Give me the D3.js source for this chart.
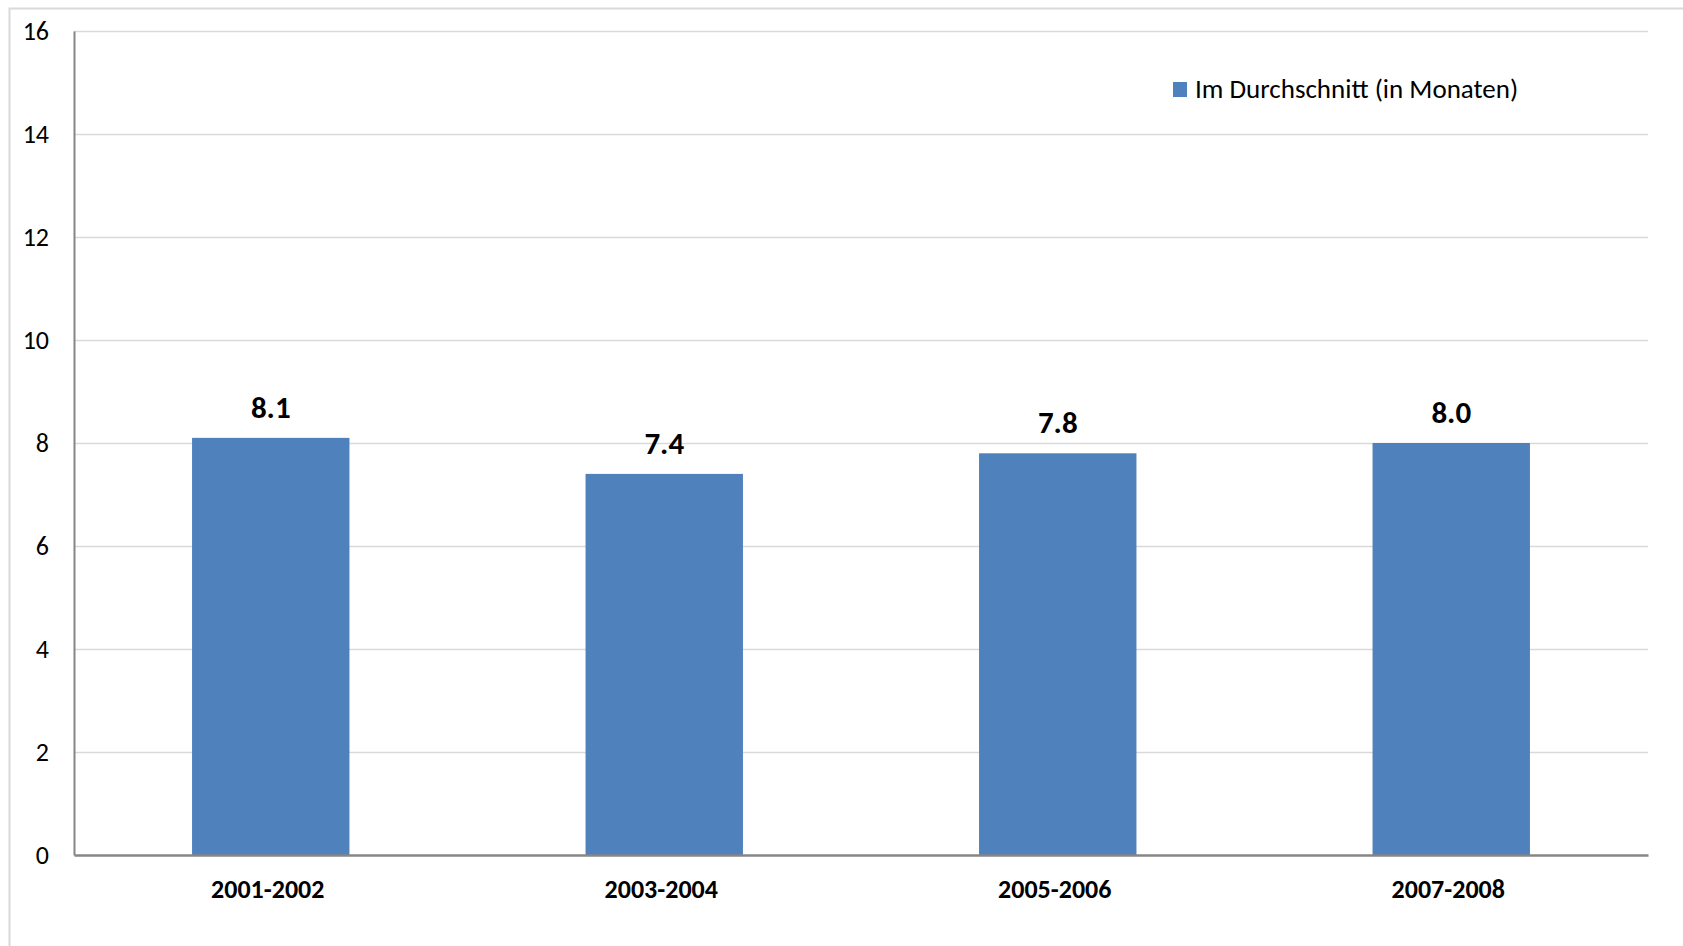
<!DOCTYPE html>
<html>
<head>
<meta charset="utf-8">
<script src="https://cdn.jsdelivr.net/npm/d3@7"></script>
<style>
  html, body { margin: 0; padding: 0; background: #fff; }
  svg { display: block; font-family: Carlito, Calibri, Lato, "Open Sans", sans-serif; }
</style>
</head>
<body>
<svg id="chart" width="1683" height="946"></svg>
<script>
// Average duration per period (in months)
const categories = ["2001-2002", "2003-2004", "2005-2006", "2007-2008"];
const values = [8.1, 7.4, 7.8, 8.0];
const yTicks = [0, 2, 4, 6, 8, 10, 12, 14, 16];
const seriesName = "Im Durchschnitt (in Monaten)";

const svg = d3.select("#chart");
const margin = { left: 74, top: 31, right: 35, bottom: 91 };
const width = 1683, height = 946;
const plotW = width - margin.left - margin.right;
const plotH = height - margin.top - margin.bottom;
const fontStack = "Carlito, Calibri, Lato, sans-serif";

// Chart frame
svg.append("rect")
  .attr("x", 9.5).attr("y", 8.5)
  .attr("width", width + 20).attr("height", height + 20)
  .attr("fill", "none").attr("stroke", "#d9d9d9").attr("stroke-width", 2);

const g = svg.append("g").attr("transform", `translate(${margin.left},${margin.top})`);

const x = d3.scaleBand().domain(categories).range([0, plotW])
  .paddingInner(0.6).paddingOuter(0.3);
const y = d3.scaleLinear().domain([0, 16]).range([plotH, 0]);

// Horizontal gridlines
g.append("g")
  .selectAll("line")
  .data(yTicks.filter(d => d > 0))
  .join("line")
  .attr("x1", 0).attr("x2", plotW)
  .attr("y1", d => Math.round(y(d)) + 0.5).attr("y2", d => Math.round(y(d)) + 0.5)
  .attr("stroke", "#d9d9d9").attr("stroke-width", 1.5);

// Y axis
const yAxis = g.append("g")
  .call(d3.axisLeft(y).tickValues(yTicks).tickSize(0).tickPadding(25).tickFormat(d3.format("d")));
yAxis.select(".domain").attr("stroke", "#868686").attr("stroke-width", 2);
yAxis.selectAll("text").attr("font-size", 26).attr("fill", "#000")
  .style("font-family", fontStack);

// Bars
g.append("g")
  .selectAll("rect")
  .data(values)
  .join("rect")
  .attr("x", (d, i) => x(categories[i]))
  .attr("y", d => y(d))
  .attr("width", x.bandwidth())
  .attr("height", d => plotH - y(d))
  .attr("fill", "#4f81bd");

// Value labels
g.append("g")
  .selectAll("text")
  .data(values)
  .join("text")
  .attr("x", (d, i) => x(categories[i]) + x.bandwidth() / 2)
  .attr("y", d => y(d) - 20)
  .attr("text-anchor", "middle")
  .attr("font-size", 31).attr("font-weight", "bold").attr("fill", "#000")
  .text(d => d3.format(".1f")(d));

// X axis
const xAxis = g.append("g")
  .attr("transform", `translate(0,${plotH})`)
  .call(d3.axisBottom(x).tickSize(0).tickPadding(25));
xAxis.select(".domain").attr("stroke", "#868686").attr("stroke-width", 2.5);
xAxis.selectAll("text").attr("font-size", 26).attr("font-weight", "bold").attr("fill", "#000")
  .attr("dx", -3)
  .style("font-family", fontStack);

// Legend
const legend = svg.append("g").attr("transform", "translate(1173,82)");
legend.append("rect").attr("width", 14).attr("height", 15).attr("fill", "#4f81bd");
legend.append("text").attr("x", 22).attr("y", 16)
  .attr("font-size", 27).attr("fill", "#000")
  .text(seriesName);
</script>
</body>
</html>
